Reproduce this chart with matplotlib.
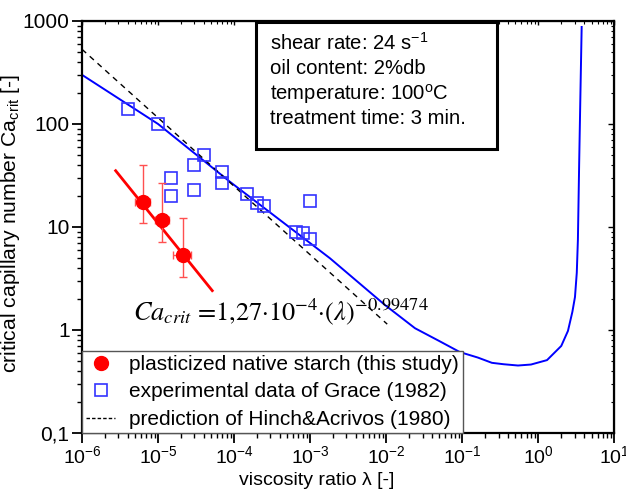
import numpy as np
import matplotlib.pyplot as plt
from matplotlib.patches import Rectangle
from matplotlib.lines import Line2D

plt.rcParams['font.family'] = 'Liberation Sans'
plt.rcParams['mathtext.fontset'] = 'custom'
plt.rcParams['mathtext.rm'] = 'Liberation Sans'
plt.rcParams['mathtext.it'] = 'Liberation Sans:italic'
plt.rcParams['mathtext.bf'] = 'Liberation Sans:bold'

# plasticized native starch (this study)
lam_starch = [6.4e-6, 1.14e-5, 2.15e-5]
ca_starch = [17.6, 11.7, 5.35]
ca_err_lo = [6.6, 4.5, 2.06]
ca_err_hi = [22.4, 14.9, 6.75]
lam_err = [1.4e-6, 2.4e-6, 5.8e-6]

# power law fit (end points)
fit_lam = [2.77e-6, 5.16e-5]
fit_ca = [35.2, 2.41]

# experimental data of Grace (1982)
lam_grace = [3.99e-6, 1.0e-5, 1.48e-5, 1.48e-5, 2.99e-5, 2.99e-5, 4.02e-5, 6.98e-5,
             6.98e-5, 1.49e-4, 2.01e-4, 2.47e-4, 6.5e-4, 7.96e-4, 9.93e-4, 9.93e-4]
ca_grace = [139, 100, 29.7, 20.0, 40, 22.9, 50, 34.4,
            26.6, 20.9, 17.0, 16.0, 9.0, 8.7, 7.6, 18.0]

# Grace curve
lam_curve = [1e-6, 1e-5, 8.8e-5, 1.82e-3, 9.6e-3, 0.0239, 0.05, 0.093, 0.16, 0.245,
             0.35, 0.54, 0.8, 1.3, 2.0, 2.45, 2.8, 3.03, 3.2, 3.31, 3.44, 3.57, 3.71]
ca_curve = [300, 100, 27.5, 4.97, 1.75, 1.04, 0.78, 0.61, 0.54, 0.48,
            0.465, 0.452, 0.462, 0.51, 0.70, 0.98, 1.5, 2.09, 3.6, 7.5, 41.8, 190, 875]

# prediction of Hinch & Acrivos (1980)
lam_ha = [1e-6, 1.03e-2]
ca_ha = [531, 1.14]

xticks = [1e-6, 1e-5, 1e-4, 1e-3, 1e-2, 1e-1, 1e0, 1e1]
xticklabels = ['$10^{-6}$', '$10^{-5}$', '$10^{-4}$', '$10^{-3}$',
               '$10^{-2}$', '$10^{-1}$', '$10^{0}$', '$10^{1}$']
yticks = [0.1, 1, 10, 100, 1000]
yticklabels = ['0,1', '1', '10', '100', '1000']

info_lines = ['shear rate: 24 s$^{-1}$', 'oil content: 2%db',
              r'temperature: 100$^{\mathrm{o}}$C', 'treatment time: 3 min.']

fig = plt.figure(figsize=(6.26, 4.94), dpi=100)
ax = fig.add_axes([0.131, 0.1235, 0.8505, 0.834])
ax.set_xscale('log')
ax.set_yscale('log')

ax.plot(lam_curve, ca_curve, color='#0000ff', lw=1.4, zorder=2)
ax.plot(lam_ha, ca_ha, color='black', lw=1, ls=(0, (4, 3.5)), zorder=2)
ax.plot(lam_grace, ca_grace, ls='none', marker='s', ms=8.5, mfc='none',
        mec='#3333ff', mew=1.2, zorder=3)
ax.plot(fit_lam, fit_ca, color='red', lw=2, zorder=3)
ax.errorbar(lam_starch, ca_starch, yerr=[ca_err_lo, ca_err_hi], xerr=lam_err,
            fmt='o', color='red', ms=10, ecolor='#ff5050', elinewidth=1,
            capsize=3, capthick=1, zorder=4)

ax.set_xlim(1e-6, 10)
ax.set_ylim(0.1, 1000)
ax.set_xticks(xticks)
ax.set_xticklabels(xticklabels)
ax.set_yticks(yticks)
ax.set_yticklabels(yticklabels)

for s in ax.spines.values():
    s.set_linewidth(1.6)
ax.tick_params(which='major', direction='out', length=7, width=1.3, pad=2)
ax.tick_params(which='minor', direction='out', length=3.5, width=1)
ax.tick_params(axis='x', labelsize=14)
ax.tick_params(axis='y', labelsize=15)

secx = ax.secondary_xaxis('top')
secx.tick_params(which='major', direction='in', length=3, width=1, labeltop=False)
secx.tick_params(which='minor', direction='in', length=2, width=0.8)
secx.set_xticks(xticks)
secx.set_xticklabels([])
secy = ax.secondary_yaxis('right')
secy.tick_params(which='major', direction='in', length=4, width=1, labelright=False)
secy.tick_params(which='minor', direction='in', length=2.5, width=0.8)
secy.set_yticks(yticks)
secy.set_yticklabels([])

ax.set_xlabel('viscosity ratio λ [-]', fontsize=14)
ax.xaxis.set_label_coords(0.44, -0.095)
ax.set_ylabel(r'critical capillary number Ca$_{\mathrm{crit}}$ [-]', fontsize=15.2)
ax.yaxis.set_label_coords(-0.113, 0.508)

# info box
ax.add_patch(Rectangle((0.327, 0.689), 0.452, 0.309, transform=ax.transAxes,
                       fc='white', ec='black', lw=2.2, zorder=5))
for i, line in enumerate(info_lines):
    ax.text(0.353, 0.931 - i * 0.0607, line, transform=ax.transAxes,
            fontsize=14.6, va='baseline', zorder=6)

ax.text(0.096, 0.274,
        r'$Ca_{crit}$ =1,27·10$^{-4}$·($\lambda$)$^{-0.99474}$',
        transform=ax.transAxes, fontsize=19, va='baseline',
        family='STIXGeneral', math_fontfamily='stix', zorder=6)

handles = [Line2D([], [], ls='none', marker='o', color='red', ms=10),
           Line2D([], [], ls='none', marker='s', ms=8.5, mfc='none', mec='#3333ff', mew=1.2),
           Line2D([], [], color='black', lw=1, ls=(0, (2.5, 1.5)))]
labels = ['plasticized native starch (this study)', 'experimental data of Grace (1982)',
          'prediction of Hinch&Acrivos (1980)']
leg = ax.legend(handles, labels, loc='lower left', bbox_to_anchor=(0, 0),
                borderaxespad=0, fancybox=False, edgecolor='#555555', fontsize=15,
                handlelength=1.4, handletextpad=0.65, labelspacing=0.4, borderpad=0.2,
                framealpha=1)
leg.get_frame().set_linewidth(1)

fig.savefig('out.png', dpi=100)
